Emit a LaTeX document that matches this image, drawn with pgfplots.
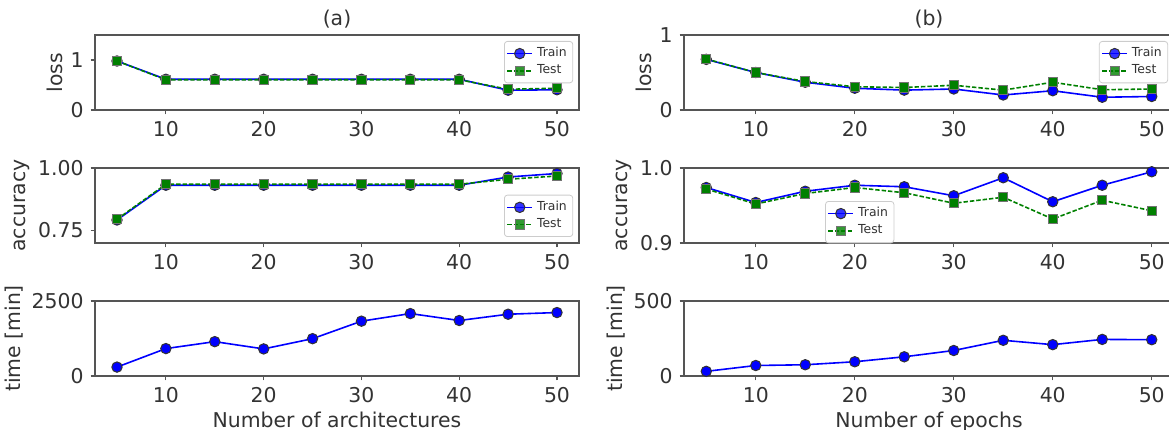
\documentclass[border=0pt]{standalone}
\usepackage{fontspec}
\setmainfont{DejaVu Sans}
\usepackage{pgfplots}
\pgfplotsset{compat=1.18}
\definecolor{mplgreen}{rgb}{0,0.5,0}
\definecolor{txt}{HTML}{333333}
\definecolor{spine}{HTML}{555555}

\pgfplotsset{
  panel/.style={
    scale only axis, height=37.5pt,
    xmin=2.75, xmax=52.25, xtick={10,20,30,40,50},
    axis line style={spine, line width=0.6pt},
    tick style={spine, line width=0.6pt}, major tick length=2.2pt,
    tick align=outside, tick pos=left,
    tick label style={font=\fontsize{10.2}{12}\selectfont, color=txt},
    label style={font=\fontsize{10.2}{12}\selectfont, color=txt},
    ylabel style={inner sep=0.5pt},
    xlabel style={inner sep=0pt, yshift=-0.8pt},
    title style={font=\fontsize{10.2}{12}\selectfont, color=txt, inner sep=2pt, yshift=-5pt},
    /pgf/number format/assume math mode=true,
    /pgf/number format/1000 sep={},
    clip=false,
    legend style={font=\fontsize{6.2}{7}\selectfont, text=txt, draw=black!20,
      fill=white, fill opacity=0.8, text opacity=1, rounded corners=1.5pt,
      inner sep=1pt, row sep=-1.5pt},
    legend cell align=left,
    legend image code/.code={\draw[mark repeat=2,mark phase=2] plot coordinates {(0cm,0cm) (0.22cm,0cm) (0.44cm,0cm)};},
  },
  trainl/.style={blue, line width=0.8pt, mark=*, mark size=2.6pt,
    mark options={solid, fill=blue, draw=black!80, line width=0.5pt}},
  testl/.style={mplgreen, line width=0.8pt, dash pattern=on 2.2pt off 1pt,
    mark=square*, mark size=2.3pt,
    mark options={solid, fill=mplgreen, draw=black!55, line width=0.5pt}},
  leftcol/.style={at={(47.5pt,#1)}, anchor=south west, width=242pt},
  rightcol/.style={at={(342pt,#1)}, anchor=south west, width=245pt},
}

\begin{document}
\begin{tikzpicture}
\path[use as bounding box] (0,0) rectangle (584.5pt,214.5pt);

% ---- (a) number of architectures ----
\begin{axis}[panel, leftcol=159.5pt, title={(a)}, ylabel={loss},
  ymin=0, ymax=1.5, ytick={0,1},
  legend style={at={(0.988,0.92)}, anchor=north east}]
  \addplot[trainl] coordinates {(5,0.98) (10,0.615) (15,0.615) (20,0.615) (25,0.615) (30,0.615) (35,0.615) (40,0.615) (45,0.395) (50,0.405)};
  \addplot[testl] coordinates {(5,0.98) (10,0.605) (15,0.605) (20,0.605) (25,0.605) (30,0.605) (35,0.605) (40,0.605) (45,0.415) (50,0.435)};
  \legend{Train, Test}
\end{axis}

\begin{axis}[panel, leftcol=93pt, ylabel={accuracy},
  ymin=0.70, ymax=1.00, ytick={0.75,1.00},
  yticklabel style={/pgf/number format/.cd, fixed, fixed zerofill, precision=2},
  legend style={at={(0.988,0.08)}, anchor=south east}]
  \addplot[trainl] coordinates {(5,0.792) (10,0.931) (15,0.931) (20,0.931) (25,0.931) (30,0.931) (35,0.931) (40,0.931) (45,0.964) (50,0.978)};
  \addplot[testl] coordinates {(5,0.795) (10,0.935) (15,0.935) (20,0.935) (25,0.935) (30,0.935) (35,0.935) (40,0.935) (45,0.955) (50,0.968)};
  \legend{Train, Test}
\end{axis}

\begin{axis}[panel, leftcol=26.5pt, ylabel={time [min]}, xlabel={Number of architectures},
  ymin=0, ymax=2500, ytick={0,2500}, scaled y ticks=false]
  \addplot[trainl] coordinates {(5,297) (10,914) (15,1145) (20,903) (25,1244) (30,1828) (35,2081) (40,1850) (45,2059) (50,2115)};
\end{axis}

% ---- (b) number of epochs ----
\begin{axis}[panel, rightcol=159.5pt, title={(b)}, ylabel={loss},
  ymin=0, ymax=1, ytick={0,1},
  legend style={at={(0.988,0.92)}, anchor=north east}]
  \addplot[trainl] coordinates {(5,0.675) (10,0.50) (15,0.37) (20,0.29) (25,0.265) (30,0.28) (35,0.20) (40,0.257) (45,0.17) (50,0.18)};
  \addplot[testl] coordinates {(5,0.68) (10,0.50) (15,0.38) (20,0.31) (25,0.30) (30,0.33) (35,0.265) (40,0.37) (45,0.27) (50,0.28)};
  \legend{Train, Test}
\end{axis}

\begin{axis}[panel, rightcol=93pt, ylabel={accuracy},
  ymin=0.9, ymax=1.0, ytick={0.9,1.0},
  yticklabel style={/pgf/number format/.cd, fixed, fixed zerofill, precision=1},
  legend style={at={(0.288,0.56)}, anchor=north west}]
  \addplot[trainl] coordinates {(5,0.974) (10,0.954) (15,0.969) (20,0.977) (25,0.975) (30,0.963) (35,0.987) (40,0.955) (45,0.977) (50,0.995)};
  \addplot[testl] coordinates {(5,0.972) (10,0.952) (15,0.966) (20,0.974) (25,0.967) (30,0.953) (35,0.961) (40,0.932) (45,0.957) (50,0.943)};
  \legend{Train, Test}
\end{axis}

\begin{axis}[panel, rightcol=26.5pt, ylabel={time [min]}, xlabel={Number of epochs},
  ymin=0, ymax=500, ytick={0,500}]
  \addplot[trainl] coordinates {(5,31) (10,70) (15,75) (20,95) (25,128) (30,170) (35,238) (40,209) (45,244) (50,242)};
\end{axis}
\end{tikzpicture}
\end{document}
